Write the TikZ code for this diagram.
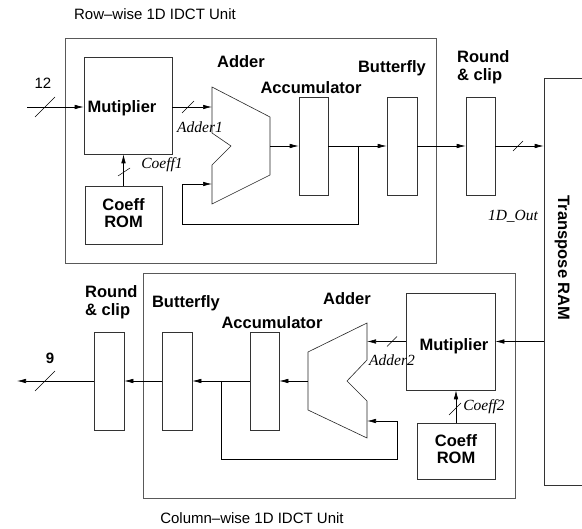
\documentclass[tikz,border=0pt]{standalone}
\usepackage{fontspec}
\setmainfont{Liberation Serif}
\newfontfamily\hv[Ligatures=TeX]{Liberation Sans}
\newfontfamily\tm[Ligatures=TeX]{Liberation Serif}
\usetikzlibrary{arrows.meta}
\begin{document}
\begin{tikzpicture}[x=1pt,y=-1pt,
  box/.style={draw=black!80, line width=0.6pt, inner sep=0pt, rectangle},
  outerbox/.style={draw=black!65, line width=0.6pt, inner sep=0pt, rectangle},
  lbl/.style={font=\hv\bfseries\fontsize{16.5}{18}\selectfont, inner sep=0pt},
  ital/.style={font=\tm\itshape\fontsize{15.5}{17}\selectfont, inner sep=0pt},
  ttl/.style={font=\hv\fontsize{15}{17}\selectfont, inner sep=0pt},
  arr/.style={-{Latex[length=9pt,width=4.5pt]}, line width=0.6pt},
  wire/.style={line width=0.6pt},
  tick/.style={line width=0.5pt},
  adderline/.style={draw=black!85, line width=0.6pt, line join=miter}
]
\clip (0,0) rectangle (582,529);
\fill[white] (0,0) rectangle (582,529);

% ---------------- Row-wise unit ----------------
\node[ttl] (ttl1) at (155,14) {Row–wise 1D IDCT Unit};
\node[outerbox, minimum width=371pt, minimum height=225pt] (outer1) at (250.5,150.5) {};

\node[box, minimum width=88pt, minimum height=97pt] (mul1) at (128,105.5) {};
\node[lbl] (mul1t) at (122,108) {Mutiplier};
\node[box, minimum width=77pt, minimum height=58pt] (rom1) at (123.5,215) {};
\node[lbl, align=center, font=\hv\bfseries\fontsize{16.5}{17}\selectfont] (rom1t) at (123.5,213) {Coeff\\ROM};

% adder 1 polygon
\draw[adderline] (212,87) -- (270,117) -- (270,175) -- (212,204) -- (212,165) -- (231,146) -- (212,133) -- cycle;
\coordinate (a1i1) at (212,107);
\coordinate (a1i2) at (212,184);
\coordinate (a1o) at (270,146);
\node[lbl] (add1t) at (241,62) {Adder};

\node[box, minimum width=29pt, minimum height=98pt] (acc1) at (313.5,146) {};
\node[lbl] (acc1t) at (311,88) {Accumulator};
\node[box, minimum width=30pt, minimum height=98pt] (bf1) at (402,146) {};
\node[lbl] (bf1t) at (392,68) {Butterfly};
\node[box, minimum width=29pt, minimum height=98pt] (rc1) at (480.5,146) {};
\node[lbl, align=left, anchor=west] (rc1t) at (457,67) {Round\\\& clip};

% Transpose RAM
\node[box, minimum width=60pt, minimum height=407pt] (ram) at (574,281.5) {};
\node[lbl, rotate=-90] (ramt) at (562,258) {Transpose RAM};

% row connectors
\coordinate (in12) at (27,107);
\draw[arr] (in12) -- (in12 -| mul1.west);
\draw[arr] (mul1.east |- a1i1) -- (a1i1);
\draw[arr] (rom1.north) -- (rom1.north |- mul1.south);
\draw[arr] (a1o) -- (acc1.west);
\coordinate (br1) at (358,146);
\coordinate (fb1) at (182,224);
\draw[wire] (acc1.east) -- (br1);
\draw[arr] (br1) -- (bf1.west);
\draw[arr] (br1) |- (fb1) |- (a1i2);
\draw[arr] (bf1.east) -- (rc1.west);
\draw[arr] (rc1.east) -- (rc1.east -| ram.west);

% row ticks and labels
\coordinate (s1) at (45,107);
\draw[tick] ([shift={(-10,10)}]s1) -- ([shift={(10,-10)}]s1);
\node[ttl] (l12) at (43,83) {12};
\coordinate (s2) at (188,107);
\draw[tick] ([shift={(-6,6)}]s2) -- ([shift={(6,-6)}]s2);
\node[ital] (ladd1) at (200,127) {Adder1};
\coordinate (s3) at (124,172);
\draw[tick] ([shift={(-6,4)}]s3) -- ([shift={(6,-4)}]s3);
\node[ital] (lcf1) at (162,165) {Coeff1};
\coordinate (s4) at (518,146);
\draw[tick] ([shift={(-5,5)}]s4) -- ([shift={(5,-5)}]s4);
\node[ital] (lout) at (513,216) {1D\_Out};

% ---------------- Column-wise unit ----------------
\node[outerbox, minimum width=372pt, minimum height=225pt] (outer2) at (329,385.5) {};
\node[ttl] (ttl2) at (252,518) {Column–wise 1D IDCT Unit};

\node[box, minimum width=89pt, minimum height=97pt] (mul2) at (450.5,341.5) {};
\node[lbl] (mul2t) at (454,346) {Mutiplier};
\node[box, minimum width=78pt, minimum height=56pt] (rom2) at (456,451) {};
\node[lbl, align=center, font=\hv\bfseries\fontsize{16.5}{17}\selectfont] (rom2t) at (456,449) {Coeff\\ROM};

% adder 2 polygon
\draw[adderline] (367,323) -- (308,352) -- (308,410) -- (367,438) -- (367,401) -- (347,381) -- (367,360) -- cycle;
\coordinate (a2i1) at (367,341.5);
\coordinate (a2i2) at (367,421);
\coordinate (a2o) at (308,381);
\node[lbl] (add2t) at (347,299) {Adder};

\node[box, minimum width=29pt, minimum height=98pt] (acc2) at (264.5,381) {};
\node[lbl] (acc2t) at (272,323) {Accumulator};
\node[box, minimum width=30pt, minimum height=98pt] (bf2) at (177,381) {};
\node[lbl] (bf2t) at (186,303) {Butterfly};
\node[box, minimum width=30pt, minimum height=98pt] (rc2) at (109,381) {};
\node[lbl, align=left, anchor=west] (rc2t) at (85,302.5) {Round\\\& clip};

% column connectors
\draw[arr] (mul2.east -| ram.west) -- (mul2.east);
\draw[arr] (mul2.west) -- (a2i1);
\draw[arr] (rom2.north) -- (rom2.north |- mul2.south);
\draw[arr] (a2o) -- (acc2.east);
\coordinate (br2) at (221,381);
\coordinate (fb2) at (397,459);
\draw[wire] (acc2.west) -- (br2);
\draw[arr] (br2) -- (bf2.east);
\draw[arr] (br2) |- (fb2) |- (a2i2);
\draw[arr] (bf2.west) -- (rc2.east);
\coordinate (out9) at (17,381);
\draw[arr] (rc2.west) -- (out9);

% column ticks and labels
\coordinate (s5) at (45,381);
\draw[tick] ([shift={(-10,10)}]s5) -- ([shift={(10,-10)}]s5);
\node[lbl, font=\hv\bfseries\fontsize{15}{17}\selectfont] (l9) at (50,358) {9};
\coordinate (s6) at (392,341.5);
\draw[tick] ([shift={(-5,5)}]s6) -- ([shift={(5,-5)}]s6);
\node[ital] (ladd2) at (392,360) {Adder2};
\coordinate (s7) at (455,409);
\draw[tick] ([shift={(-6,6)}]s7) -- ([shift={(6,-6)}]s7);
\node[ital] (lcf2) at (484,407) {Coeff2};
\end{tikzpicture}
\end{document}
